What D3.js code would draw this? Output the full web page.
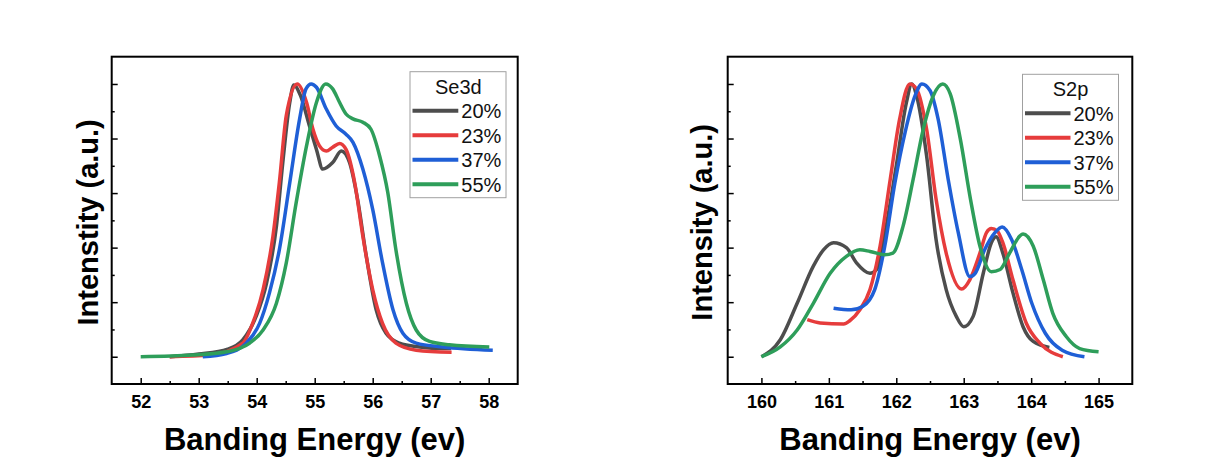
<!DOCTYPE html>
<html>
<head>
<meta charset="utf-8">
<script src="https://cdn.jsdelivr.net/npm/d3@7"></script>
<style>
  html, body { margin: 0; padding: 0; background: #ffffff; }
  text { font-family: "Liberation Sans", Arial, sans-serif; }
</style>
</head>
<body>
<script>
// ---------- Data ----------
const seriesNames = ["20%", "23%", "37%", "55%"];
const seXTicks = [52, 53, 54, 55, 56, 57, 58];
const sXTicks = [160, 161, 162, 163, 164, 165];

// Se3d panel
const se20x = [52.5, 53.0, 53.5, 53.76, 53.99, 54.17, 54.34, 54.45, 54.57, 54.64, 54.75, 54.91, 55.03, 55.14, 55.31, 55.46, 55.6, 55.74, 55.89, 56.06, 56.23, 56.46, 56.81, 57.2, 57.35];
const se20y = [0, 0.05, 0.14, 0.31, 0.74, 1.35, 2.39, 3.56, 4.66, 4.98, 4.8, 4.23, 3.8, 3.44, 3.56, 3.77, 3.56, 2.88, 1.84, 0.86, 0.43, 0.25, 0.18, 0.15, 0.15];
const se23x = [52.5, 53.19, 53.76, 53.93, 54.11, 54.28, 54.39, 54.51, 54.7, 54.86, 54.97, 55.08, 55.2, 55.31, 55.43, 55.54, 55.69, 55.83, 56.0, 56.17, 56.4, 56.75, 57.36];
const se23y = [0, 0.03, 0.25, 0.61, 1.23, 2.21, 3.19, 4.42, 5.0, 4.66, 4.17, 3.87, 3.77, 3.84, 3.91, 3.8, 3.19, 2.21, 1.23, 0.61, 0.25, 0.12, 0.08];
const se37x = [53.07, 53.48, 53.82, 54.05, 54.22, 54.39, 54.57, 54.74, 54.85, 54.94, 55.03, 55.2, 55.37, 55.54, 55.66, 55.83, 56.0, 56.17, 56.35, 56.52, 56.75, 57.21, 58.07];
const se37y = [0, 0.06, 0.25, 0.61, 1.17, 1.96, 3.19, 4.36, 4.91, 5.0, 4.94, 4.54, 4.23, 4.08, 3.93, 3.44, 2.7, 1.72, 0.86, 0.43, 0.25, 0.18, 0.12];
const se55x = [52.0, 52.9, 53.48, 53.88, 54.11, 54.34, 54.51, 54.68, 54.86, 55.03, 55.19, 55.31, 55.43, 55.54, 55.66, 55.83, 55.97, 56.12, 56.26, 56.4, 56.58, 56.75, 56.98, 57.32, 58.01];
const se55y = [0, 0.03, 0.09, 0.25, 0.49, 0.98, 1.72, 2.82, 3.87, 4.66, 5.0, 4.91, 4.66, 4.45, 4.36, 4.3, 4.17, 3.68, 3.01, 1.96, 0.98, 0.49, 0.28, 0.22, 0.18];

// S2p panel
const s20x = [160.0, 160.28, 160.53, 160.77, 160.92, 161.07, 161.26, 161.41, 161.61, 161.71, 161.85, 162.0, 162.15, 162.23, 162.3, 162.45, 162.59, 162.74, 162.89, 163.0, 163.14, 163.29, 163.41, 163.48, 163.58, 163.73, 163.88, 164.03, 164.27];
const s20y = [0, 0.31, 0.98, 1.66, 1.96, 2.09, 2.0, 1.72, 1.53, 1.6, 2.39, 3.5, 4.66, 5.0, 4.79, 3.68, 2.15, 1.23, 0.74, 0.55, 0.74, 1.53, 2.09, 2.2, 1.9, 1.17, 0.55, 0.28, 0.17];
const s23x = [160.68, 160.87, 161.22, 161.31, 161.46, 161.61, 161.76, 161.91, 162.05, 162.2, 162.3, 162.45, 162.59, 162.74, 162.97, 163.09, 163.24, 163.34, 163.41, 163.5, 163.58, 163.73, 163.93, 164.13, 164.47];
const s23y = [0.68, 0.62, 0.6, 0.66, 0.86, 1.23, 2.03, 3.25, 4.36, 5.0, 4.91, 4.17, 2.89, 1.9, 1.24, 1.41, 1.9, 2.28, 2.35, 2.3, 2.09, 1.41, 0.61, 0.25, 0];
const s37x = [161.07, 161.33, 161.5, 161.68, 161.83, 161.98, 162.13, 162.28, 162.38, 162.5, 162.62, 162.77, 162.92, 163.09, 163.17, 163.31, 163.46, 163.57, 163.71, 163.86, 164.01, 164.21, 164.46, 164.79];
const s37y = [0.89, 0.86, 0.92, 1.23, 2.03, 3.19, 4.11, 4.79, 5.0, 4.88, 4.36, 3.25, 2.27, 1.47, 1.53, 1.96, 2.27, 2.38, 2.15, 1.6, 0.98, 0.43, 0.12, 0];
const s55x = [160.0, 160.28, 160.53, 160.77, 161.02, 161.26, 161.46, 161.61, 161.83, 161.95, 162.1, 162.25, 162.4, 162.55, 162.69, 162.8, 162.95, 163.1, 163.24, 163.41, 163.54, 163.68, 163.83, 163.88, 164.03, 164.18, 164.32, 164.52, 164.72, 165.0];
const s55y = [0, 0.18, 0.49, 0.98, 1.53, 1.84, 1.96, 1.93, 1.87, 1.9, 2.39, 3.25, 4.17, 4.79, 5.0, 4.82, 3.99, 2.89, 2.03, 1.56, 1.6, 1.9, 2.21, 2.25, 2.03, 1.41, 0.8, 0.37, 0.15, 0.09];

const yMajor = [0, 1, 2, 3, 4, 5];
const yMinor = [0.5, 1.5, 2.5, 3.5, 4.5];

// ---------- Styles ----------
const colors = ["#4d4d4d", "#e63c3c", "#1f5fd6", "#2e9e5a"];
const W = 1211, H = 458;

const svg = d3.select("body").append("svg")
  .attr("width", W).attr("height", H)
  .style("display", "block");
svg.append("rect").attr("width", W).attr("height", H).attr("fill", "#ffffff");

function zip(xs, ys) { return xs.map((v, i) => [v, ys[i]]); }

function panel(cfg) {
  const { left, right, top, bottom, xDomain, xTicks, legendTitle, data, legendBox } = cfg;
  const x = d3.scaleLinear().domain(xDomain).range([left, right]);
  const y = d3.scaleLinear().domain([-0.5, 5.5]).range([bottom, top]);
  const g = svg.append("g");

  // x minor ticks
  const xMinorVals = xTicks.slice(0, -1).map(v => v + 0.5);
  g.append("g").attr("transform", `translate(0,${bottom})`)
    .call(d3.axisBottom(x).tickValues(xMinorVals).tickSize(-3).tickFormat(""))
    .call(s => s.select(".domain").remove())
    .call(s => s.selectAll("line").attr("stroke", "#000").attr("stroke-width", 1.5));
  // x major ticks + labels
  g.append("g").attr("transform", `translate(0,${bottom})`)
    .call(d3.axisBottom(x).tickValues(xTicks).tickSize(-6).tickPadding(11).tickFormat(d3.format("d")))
    .call(s => s.select(".domain").remove())
    .call(s => s.selectAll("line").attr("stroke", "#000").attr("stroke-width", 1.5))
    .call(s => s.selectAll("text").attr("fill", "#000").style("font-size", "18px").style("font-weight", "bold")
      .style("font-family", '"Liberation Sans", Arial, sans-serif'));

  // y ticks (no labels)
  g.append("g").attr("transform", `translate(${left},0)`)
    .call(d3.axisLeft(y).tickValues(yMinor).tickSize(-3).tickFormat(""))
    .call(s => s.select(".domain").remove())
    .call(s => s.selectAll("line").attr("stroke", "#000").attr("stroke-width", 1.5));
  g.append("g").attr("transform", `translate(${left},0)`)
    .call(d3.axisLeft(y).tickValues(yMajor).tickSize(-6).tickFormat(""))
    .call(s => s.select(".domain").remove())
    .call(s => s.selectAll("line").attr("stroke", "#000").attr("stroke-width", 1.5));

  // lines
  const line = d3.line().x(d => x(d[0])).y(d => y(d[1])).curve(d3.curveMonotoneX);
  data.forEach((pts, i) => {
    g.append("path").datum(pts)
      .attr("d", line)
      .attr("fill", "none")
      .attr("stroke", colors[i])
      .attr("stroke-width", 3.5)
      .attr("stroke-linejoin", "round")
      .attr("stroke-linecap", "butt");
  });

  // frame
  g.append("rect").attr("x", left).attr("y", top)
    .attr("width", right - left).attr("height", bottom - top)
    .attr("fill", "none").attr("stroke", "#000").attr("stroke-width", 2);

  // legend
  const lb = legendBox;
  const lg = g.append("g");
  lg.append("rect").attr("x", lb.x).attr("y", lb.y).attr("width", lb.w).attr("height", lb.h)
    .attr("fill", "#ffffff").attr("stroke", "#a0a0a0").attr("stroke-width", 1);
  lg.append("text").attr("x", lb.lineX2).attr("y", lb.y + 22)
    .attr("text-anchor", "middle").style("font-size", "20px").attr("fill", "#111")
    .text(legendTitle);
  seriesNames.forEach((nm, i) => {
    const cy = lb.y + 39 + i * 24.5;
    lg.append("line").attr("x1", lb.x + 2.5).attr("x2", lb.lineX2)
      .attr("y1", cy).attr("y2", cy)
      .attr("stroke", colors[i]).attr("stroke-width", 4);
    lg.append("text").attr("x", lb.lineX2 + 3).attr("y", cy + 7.5)
      .style("font-size", "20px").attr("fill", "#111").text(nm);
  });

  // axis titles
  g.append("text").attr("x", (left + right) / 2).attr("y", 450)
    .attr("text-anchor", "middle").style("font-size", "31px").style("font-weight", "bold")
    .attr("fill", "#000").text("Banding Energy (ev)");
  g.append("text")
    .attr("transform", `translate(${cfg.yTitleX},${(top + bottom) / 2 + 2}) rotate(-90)`)
    .attr("text-anchor", "middle").attr("dominant-baseline", "central")
    .style("font-size", "29px").style("font-weight", "bold")
    .attr("fill", "#000").text(cfg.yTitle);
}

panel({
  left: 111.7, right: 517.7, top: 56.7, bottom: 384,
  xDomain: [51.5, 58.5], xTicks: seXTicks, legendTitle: "Se3d",
  yTitleX: 87.5, yTitle: "Intenstity (a.u.)",
  legendBox: { x: 410, y: 71.7, w: 96, h: 126, lineX2: 458.3 },
  data: [zip(se20x, se20y), zip(se23x, se23y), zip(se37x, se37y), zip(se55x, se55y)]
});

panel({
  left: 727.7, right: 1132.3, top: 56.7, bottom: 384,
  xDomain: [159.5, 165.5], xTicks: sXTicks, legendTitle: "S2p",
  yTitleX: 702, yTitle: "Intensity (a.u.)",
  legendBox: { x: 1022.5, y: 74.3, w: 96, h: 126, lineX2: 1070.5 },
  data: [zip(s20x, s20y), zip(s23x, s23y), zip(s37x, s37y), zip(s55x, s55y)]
});
</script>
</body>
</html>
